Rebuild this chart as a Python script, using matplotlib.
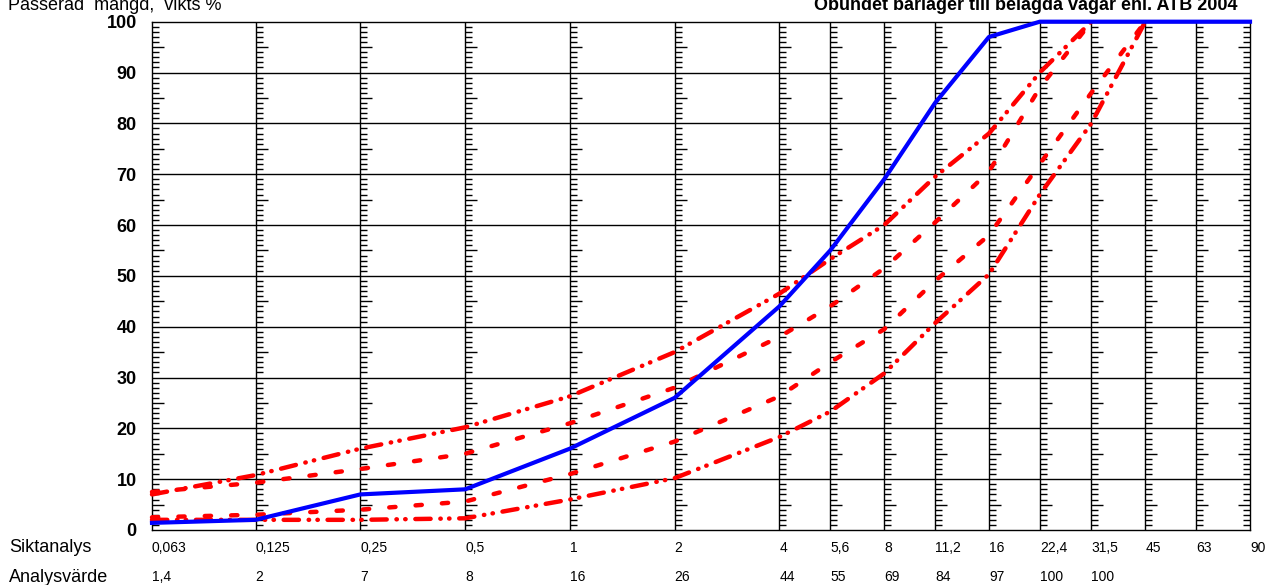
import matplotlib
matplotlib.use("Agg")
import matplotlib.pyplot as plt
import matplotlib.transforms as mtransforms
from matplotlib.path import Path
from matplotlib.ticker import NullLocator

plt.rcParams['font.family'] = ['Liberation Sans', 'DejaVu Sans']
plt.rcParams['lines.scale_dashes'] = False

# sieve sizes (mm) and the two label rows under the chart
sieves = [0.063, 0.125, 0.25, 0.5, 1, 2, 4, 5.6, 8, 11.2, 16, 22.4, 31.5, 45, 63, 90]
sieve_labels = ["0,063", "0,125", "0,25", "0,5", "1", "2", "4", "5,6", "8",
                "11,2", "16", "22,4", "31,5", "45", "63", "90"]
analys_labels = ["1,4", "2", "7", "8", "16", "26", "44", "55", "69", "84",
                 "97", "100", "100", "", "", ""]

# measured grading curve (passing, weight %)
passing = [1.4, 2, 7, 8, 16, 26, 44, 55, 69, 84, 97, 100, 100, 100, 100, 100]

# grading limits (ATB 2004)
upper_outer = [7, 10.8, 16, 20.2, 26.3, 35, 46.5, 53.3, 60, 69.5, 78, 90, 100]
upper_inner = [7.5, 9.3, 12, 15, 21, 28, 38, 44, 51.5, 60.5, 70.5, 87, 100]
lower_inner = [2.5, 3, 4, 5.6, 11, 17.4, 26.3, 33, 39.5, 49, 58, 72, 86, 100]
lower_outer = [2, 2, 2, 2.3, 6, 10.2, 18.3, 23.3, 30.8, 40.7, 50.3, 66, 80, 100]

fig = plt.figure(figsize=(12.65, 5.85), dpi=100)
ax = fig.add_axes([152 / 1265, 55 / 585, 1098 / 1265, 508.3 / 585])
ax.set_xscale('log')
ax.set_xlim(0.063, 90)
ax.set_ylim(0, 100)
ax.set_xticks([])
ax.xaxis.set_minor_locator(NullLocator())

# grid
ax.vlines(sieves[1:-1], 0, 100, color='black', lw=1, zorder=1)
ax.hlines(range(10, 100, 10), 0.063, 90, color='black', lw=1, zorder=1)
for sp in ax.spines.values():
    sp.set_color('black')
    sp.set_linewidth(1)

# small scale ticks beside every sieve line
right_tick = Path([(0, 0), (1, 0)])
left_tick = Path([(0, 0), (-1, 0)])
short_ys = [v for v in range(1, 100) if v % 5 != 0]
long_ys = [v for v in range(5, 100, 10)]
for s in sieves:
    mk = left_tick if s == sieves[-1] else right_tick
    ax.plot([s] * len(short_ys), short_ys, ls='none', marker=mk, markersize=9.4,
            markeredgecolor='black', markeredgewidth=1, zorder=2)
    ax.plot([s] * len(long_ys), long_ys, ls='none', marker=mk, markersize=17.3,
            markeredgecolor='black', markeredgewidth=1, zorder=2)

# limit curves
dash_dot_dot = (0, (11, 7, 0.3, 6, 0.3, 7))
dashed = (0, (4.5, 14.5))
ax.plot(sieves[:13], upper_outer, color='red', lw=3.2, linestyle=dash_dot_dot,
        dash_capstyle='round', clip_on=False, zorder=3)
ax.plot(sieves[:13], upper_inner, color='red', lw=3.2, linestyle=dashed,
        dash_capstyle='round', clip_on=False, zorder=3)
ax.plot(sieves[:14], lower_inner, color='red', lw=3.2, linestyle=dashed,
        dash_capstyle='round', clip_on=False, zorder=3)
ax.plot(sieves[:14], lower_outer, color='red', lw=3.2, linestyle=dash_dot_dot,
        dash_capstyle='round', clip_on=False, zorder=3)

# analysis curve
ax.plot(sieves, passing, color='blue', lw=3, clip_on=False, zorder=4)

# y axis
ax.set_yticks(range(0, 101, 10))
ax.tick_params(axis='y', length=0, pad=11, labelsize=13)
for lab in ax.get_yticklabels():
    lab.set_fontweight('bold')

# label rows under the chart
trans = mtransforms.blended_transform_factory(ax.transData, fig.transFigure)
for s, lab, val in zip(sieves, sieve_labels, analys_labels):
    ax.text(s, (585 - 548) / 585, lab, transform=trans,
            ha='left', va='center', fontsize=10)
    ax.text(s, (585 - 577) / 585, val, transform=trans,
            ha='left', va='center', fontsize=10)
fig.text(9 / 1265, (585 - 548) / 585, "Siktanalys", fontsize=13, va='center')
fig.text(9 / 1265, (585 - 577) / 585, "Analysvärde", fontsize=13, va='center')

# titles (partly cut off at the top, as in the original)
fig.text(8 / 1265, 1 - 9.5 / 585, "Passerad  mängd,  vikts %", fontsize=13,
         va='baseline', ha='left')
fig.text(1238 / 1265, 1 - 10 / 585, "Obundet bärlager till belagda vägar enl. ATB 2004",
         fontsize=13, fontweight='bold', va='baseline', ha='right')

fig.savefig("out.png", dpi=100)
